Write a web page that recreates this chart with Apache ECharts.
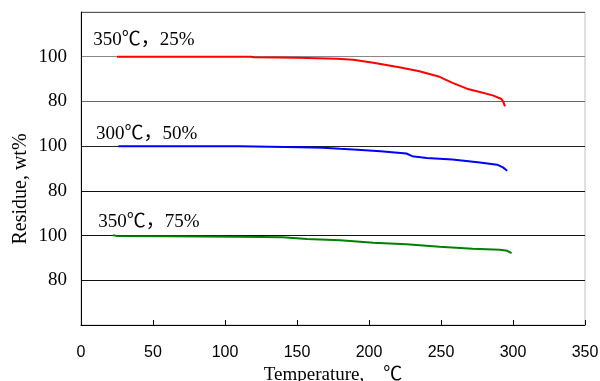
<!DOCTYPE html>
<html>
<head>
<meta charset="utf-8">
<script src="https://cdn.jsdelivr.net/npm/echarts@6/dist/echarts.min.js"></script>
<style>html,body{margin:0;padding:0;background:#fff}#c{width:600px;height:381px}</style>
</head>
<body>
<div id="c"></div>
<script>
// Temperature (°C) and residue (wt%)
var red350_25 = [[25,100],[60,100],[100,100],[118,100],[120,99.8],[150,99.5],[178,99.1],[189,98.6],[203,97.3],[221,95.3],[235,93.5],[249,91.0],[258,88.3],[268,85.7],[277,84.2],[286,82.7],[292,81.1],[293.3,79.8],[294.4,77.8]];
var blue300_50 = [[26,100],[80,100],[110,100],[152,99.5],[168,99.3],[180,98.8],[192,98.4],[208,97.7],[226,96.7],[230,95.5],[240,94.7],[258,94],[277,92.7],[289,91.7],[293,90.5],[296,89]];
var green350_75 = [[22,100.2],[25,99.8],[60,99.7],[110,99.5],[140,99.3],[157,98.5],[180,97.9],[203,96.8],[226,96.1],[249,95],[272,94.1],[291,93.7],[296,93.2],[299,92.1]];

var seriesNames = ['350\u2103\uFF0C25%', '300\u2103\uFF0C50%', '350\u2103\uFF0C75%'];
var seriesColors = ['#ff0000', '#0000ff', '#008000'];
// vertical offset of each curve on the shared stacked axis
var offsets = [20, -20, -60];
// label anchor (temperature, stacked-axis value)
var labelAnchors = [[8.5, 127.4], [10.4, 85.3], [12, 46.2]];

var xTicks = [0, 50, 100, 150, 200, 250, 300, 350];
// stacked y axis tick labels (value -> residue label)
var yTickLabels = {0: '', 20: '80', 40: '100', 60: '80', 80: '100', 100: '80', 120: '100', 140: ''};

var serif = '"Liberation Serif","Times New Roman","Noto Sans CJK SC",serif';
var sans = '"Liberation Sans",Arial,sans-serif';

var datasets = [red350_25, blue300_50, green350_75];
var series = datasets.map(function (d, i) {
  return {
    type: 'line',
    name: seriesNames[i],
    data: d.map(function (p) { return [p[0], p[1] + offsets[i]]; }),
    symbol: 'none',
    smooth: false,
    lineStyle: {color: seriesColors[i], width: 2},
    z: 3,
    markPoint: {
      symbol: 'circle',
      symbolSize: 0,
      silent: true,
      label: {
        show: true,
        position: 'right',
        distance: 0,
        formatter: seriesNames[i],
        fontFamily: serif,
        fontSize: 19,
        color: '#000'
      },
      data: [{coord: labelAnchors[i]}]
    }
  };
});

var chart = echarts.init(document.getElementById('c'));
chart.setOption({
  animation: false,
  backgroundColor: '#fff',
  grid: {left: 81, right: 15, top: 12, bottom: 56, outerBoundsMode: 'none', containLabel: false, show: true, borderColor: '#c0c0c0', borderWidth: 1, backgroundColor: 'transparent'},
  xAxis: {
    type: 'value', min: xTicks[0], max: xTicks[xTicks.length - 1], interval: 50,
    axisLine: {show: true, onZero: false, lineStyle: {color: '#000', width: 1}},
    axisTick: {show: true, inside: true, length: 5, lineStyle: {color: '#000'}},
    axisLabel: {fontFamily: sans, fontSize: 16, color: '#000', margin: 20},
    splitLine: {show: false},
    name: 'Temperature,    \u2103',
    nameLocation: 'middle',
    nameGap: 38,
    nameTextStyle: {fontFamily: serif, fontSize: 19, color: '#000'}
  },
  yAxis: {
    type: 'value', min: 0, max: 140, interval: 20,
    axisLine: {show: true, lineStyle: {color: '#000', width: 1}},
    axisTick: {show: false},
    axisLabel: {
      fontFamily: serif, fontSize: 19, color: '#000', margin: 14,
      formatter: function (v) { return yTickLabels[v] !== undefined ? yTickLabels[v] : ''; }
    },
    splitLine: {show: true, lineStyle: {color: ['#000', '#111', '#111', '#111', '#222', '#666', '#888', '#555'], width: 1}}
  },
  graphic: [{
    type: 'text',
    x: 21, y: 189,
    rotation: Math.PI / 2,
    style: {text: 'Residue, wt%', font: '20px ' + serif, fill: '#000', align: 'center', verticalAlign: 'middle'}
  }],
  series: series
});
</script>
</body>
</html>
